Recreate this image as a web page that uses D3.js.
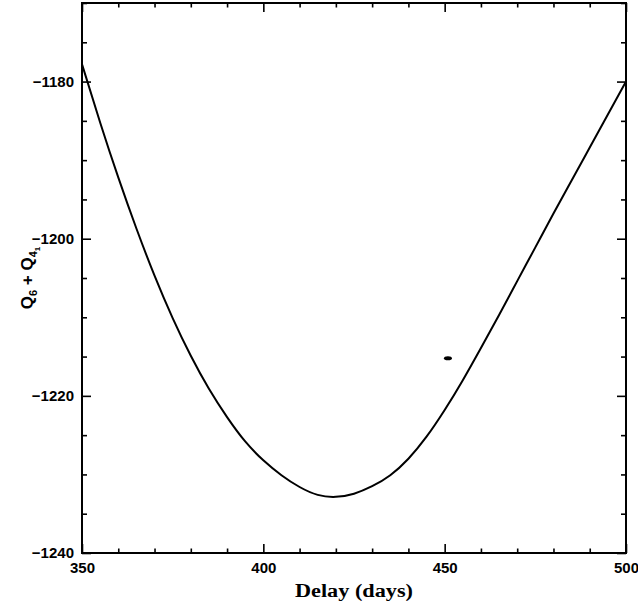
<!DOCTYPE html>
<html>
<head>
<meta charset="utf-8">
<script src="https://cdn.jsdelivr.net/npm/d3@7"></script>
<style>
  html, body { margin: 0; padding: 0; background: #fff; }
  svg { display: block; }
  .tick text { font-family: "Liberation Sans", Arial, sans-serif; font-weight: bold; font-size: 15px; fill: #000; }
  .tick line { stroke: #000; stroke-width: 1.6; }
</style>
</head>
<body>
<script>
// Delay (days) sampled along the curve
const delays = [350, 355, 360, 365, 370, 375, 380, 385, 390, 395, 400, 405, 410, 415, 420,
                425, 430, 435, 440, 445, 450, 455, 460, 465, 470, 475, 480, 485, 490, 495, 500];
// Q6 + Q41 statistic at each delay
const qValues = [-1177.8, -1185.2, -1192.2, -1198.7, -1204.7, -1210.1, -1214.9, -1219.1, -1222.7, -1225.8,
                 -1228.2, -1230.1, -1231.6, -1232.6, -1232.85, -1232.45, -1231.5, -1230.1, -1228.0, -1225.2,
                 -1221.8, -1218.0, -1213.9, -1209.7, -1205.4, -1201.1, -1196.8, -1192.6, -1188.4, -1184.2, -1180.0];
// Isolated marker
const markerPoint = [450.9, -1215.2];

const xMajor = [350, 400, 450, 500];
const xMinor = [360, 370, 380, 390, 410, 420, 430, 440, 460, 470, 480, 490];
const yMajor = [-1240, -1220, -1200, -1180];
const yMinor = [-1235, -1230, -1225, -1215, -1210, -1205, -1195, -1190, -1185, -1175, -1170];

const W = 638, H = 606;
const pLeft = 82, pRight = 626, pTop = 3, pBottom = 553;

const svg = d3.select("body").append("svg").attr("width", W).attr("height", H);

const x = d3.scaleLinear().domain([350, 500]).range([pLeft, pRight]);
const y = d3.scaleLinear().domain([-1240, -1170]).range([pBottom, pTop]);

const fmt = d3.format("d");

function addAxis(axis, tx, ty) {
  const g = svg.append("g").attr("transform", `translate(${tx},${ty})`).call(axis);
  g.select(".domain").remove();
  return g;
}

// bottom
addAxis(d3.axisBottom(x).tickValues(xMajor).tickSize(-9).tickPadding(9).tickFormat(fmt), 0, pBottom);
addAxis(d3.axisBottom(x).tickValues(xMinor).tickSize(-4.5).tickFormat(""), 0, pBottom);
// top
addAxis(d3.axisTop(x).tickValues(xMajor).tickSize(-9).tickFormat(""), 0, pTop);
addAxis(d3.axisTop(x).tickValues(xMinor).tickSize(-4.5).tickFormat(""), 0, pTop);
// left
addAxis(d3.axisLeft(y).tickValues(yMajor).tickSize(-9).tickPadding(8).tickFormat(fmt), pLeft, 0);
addAxis(d3.axisLeft(y).tickValues(yMinor).tickSize(-5).tickFormat(""), pLeft, 0);
// right
addAxis(d3.axisRight(y).tickValues(yMajor).tickSize(-9).tickFormat(""), pRight, 0);
addAxis(d3.axisRight(y).tickValues(yMinor).tickSize(-5).tickFormat(""), pRight, 0);

// frame
svg.append("rect")
  .attr("x", pLeft).attr("y", pTop)
  .attr("width", pRight - pLeft).attr("height", pBottom - pTop)
  .attr("fill", "none").attr("stroke", "#000").attr("stroke-width", 2);

// curve
const line = d3.line()
  .x((d, i) => x(delays[i]))
  .y(d => y(d))
  .curve(d3.curveNatural);

svg.append("path")
  .datum(qValues)
  .attr("d", line)
  .attr("fill", "none")
  .attr("stroke", "#000")
  .attr("stroke-width", 2);

// marker
svg.append("ellipse")
  .attr("cx", x(markerPoint[0])).attr("cy", y(markerPoint[1]))
  .attr("rx", 4).attr("ry", 2)
  .attr("fill", "#000");

// x label
svg.append("text")
  .attr("x", (pLeft + pRight) / 2).attr("y", 597)
  .attr("text-anchor", "middle")
  .attr("font-family", "'Liberation Serif', 'Times New Roman', serif")
  .attr("font-weight", "bold")
  .attr("font-size", 18)
  .attr("textLength", 118)
  .attr("lengthAdjust", "spacingAndGlyphs")
  .text("Delay (days)");

// y label
const yl = svg.append("text")
  .attr("transform", `translate(33,${(pTop + pBottom) / 2}) rotate(-90)`)
  .attr("text-anchor", "middle")
  .attr("font-family", "'Liberation Sans', Arial, sans-serif")
  .attr("font-weight", "bold")
  .attr("font-size", 17);
yl.append("tspan").text("Q");
yl.append("tspan").attr("font-size", 11).attr("dy", 4).text("6");
yl.append("tspan").attr("dy", -4).text(" + Q");
yl.append("tspan").attr("font-size", 11).attr("dy", 4).text("4");
yl.append("tspan").attr("font-size", 8).attr("dy", 3).text("1");
</script>
</body>
</html>
